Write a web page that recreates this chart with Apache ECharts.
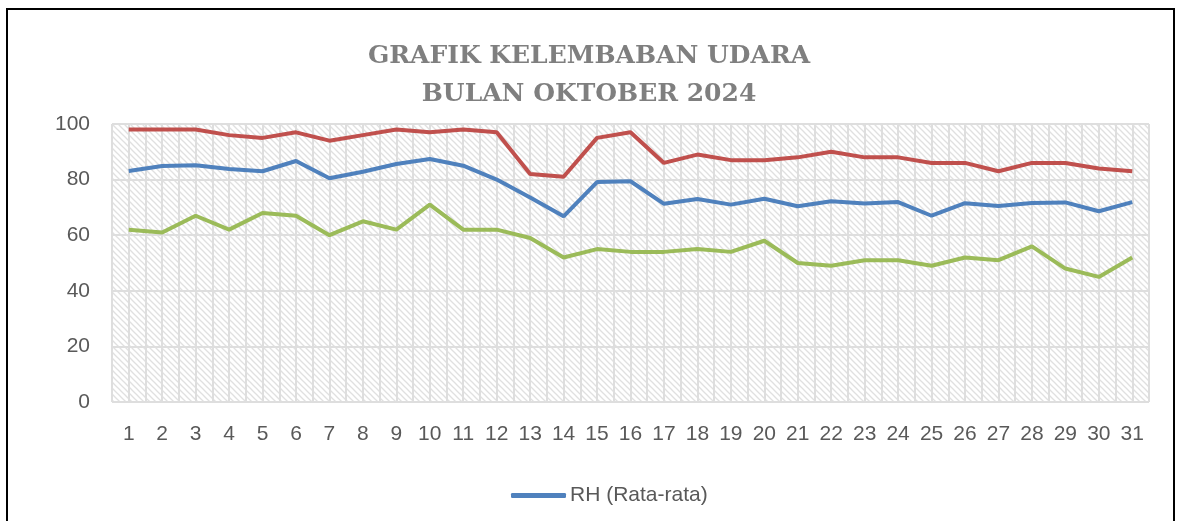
<!DOCTYPE html>
<html>
<head>
<meta charset="utf-8">
<script src="https://cdn.jsdelivr.net/npm/echarts@6/dist/echarts.min.js"></script>
<style>
  html, body { margin: 0; padding: 0; background: #fff; }
  #chart { width: 1178px; height: 521px; }
</style>
</head>
<body>
<div id="chart"></div>
<script>
// hari dalam bulan Oktober 2024
var days = [];
for (var d = 1; d <= 31; d++) days.push(String(d));

var rhMax = [98, 98, 98, 96, 95, 97, 94, 96, 98, 97, 98, 97, 82, 81, 95, 97,
  86, 89, 87, 87, 88, 90, 88, 88, 86, 86, 83, 86, 86, 84, 83];
var rhAvg = [83.1, 84.9, 85.2, 83.8, 83.0, 86.7, 80.5, 82.8, 85.6, 87.4, 85.0,
  80.0, 73.6, 66.8, 79.1, 79.4, 71.3, 73.0, 71.0, 73.1, 70.4, 72.2, 71.4, 71.9,
  67.0, 71.5, 70.5, 71.6, 71.8, 68.6, 71.9];
var rhMin = [62, 61, 67, 62, 68, 67, 60, 65, 62, 71, 62, 62, 59, 52, 55, 54,
  54, 55, 54, 58, 50, 49, 51, 51, 49, 52, 51, 56, 48, 45, 52];

var yTicks = [0, 20, 40, 60, 80, 100];

// pola arsir diagonal untuk latar plot
function hatch() {
  var s = 6;
  var c = document.createElement('canvas');
  c.width = s; c.height = s;
  var ctx = c.getContext('2d');
  ctx.fillStyle = '#ffffff';
  ctx.fillRect(0, 0, s, s);
  ctx.strokeStyle = '#e0e0e0';
  ctx.lineWidth = 1.3;
  [-s, 0, s].forEach(function (o) {
    ctx.beginPath();
    ctx.moveTo(o - 1, -1);
    ctx.lineTo(o + s + 1, s + 1);
    ctx.stroke();
  });
  return c;
}

var chart = echarts.init(document.getElementById('chart'));
var labelFont = '"Liberation Sans", Arial, sans-serif';

var option = {
  backgroundColor: '#ffffff',
  animation: false,
  title: {
    text: 'GRAFIK KELEMBABAN UDARA\nBULAN OKTOBER 2024',
    left: 'center',
    top: 32,
    textStyle: {
      fontFamily: '"DejaVu Serif", "Liberation Serif", serif',
      fontWeight: 'bold',
      fontSize: 25,
      lineHeight: 38,
      color: '#7f7f7f'
    }
  },
  legend: {
    data: ['RH (Rata-rata)'],
    left: 506,
    top: 480,
    icon: 'roundRect',
    itemWidth: 55,
    itemHeight: 5,
    itemGap: 6,
    textStyle: { color: '#595959', fontSize: 21, fontFamily: labelFont, padding: [0, 0, 0, -1] }
  },
  grid: {
    left: 112,
    right: 29,
    top: 124,
    bottom: 119,
    show: true,
    borderWidth: 0,
    backgroundColor: { image: hatch(), repeat: 'repeat' }
  },
  xAxis: [
    {
      type: 'category',
      data: days,
      boundaryGap: true,
      axisLine: { show: false },
      axisTick: { show: false },
      splitLine: { show: false },
      axisLabel: { color: '#595959', fontSize: 21, margin: 22, fontFamily: labelFont }
    },
    {
      // garis kisi vertikal tiap setengah kategori
      type: 'value',
      min: 0,
      max: 62,
      interval: 1,
      position: 'top',
      axisLine: { show: false },
      axisTick: { show: false },
      axisLabel: { show: false },
      splitLine: { show: true, lineStyle: { color: '#dedede', width: 2 } }
    }
  ],
  yAxis: {
    type: 'value',
    min: yTicks[0],
    max: yTicks[yTicks.length - 1],
    interval: 20,
    axisLine: { show: false },
    axisTick: { show: false },
    axisLabel: { color: '#595959', fontSize: 21, margin: 22, fontFamily: labelFont },
    splitLine: { show: true, lineStyle: { color: '#dedede', width: 2 } }
  },
  series: [
    {
      name: 'RH (Maks)',
      type: 'line',
      data: rhMax,
      symbol: 'none',
      lineStyle: { color: '#c0504d', width: 4 },
      itemStyle: { color: '#c0504d' }
    },
    {
      name: 'RH (Rata-rata)',
      type: 'line',
      data: rhAvg,
      symbol: 'none',
      lineStyle: { color: '#4f81bd', width: 4 },
      itemStyle: { color: '#4f81bd' }
    },
    {
      name: 'RH (Min)',
      type: 'line',
      data: rhMin,
      symbol: 'none',
      lineStyle: { color: '#9bbb59', width: 4 },
      itemStyle: { color: '#9bbb59' }
    }
  ],
  graphic: [
    {
      type: 'rect',
      shape: { x: 7, y: 9, width: 1167, height: 530 },
      style: { fill: null, stroke: '#000000', lineWidth: 2 },
      silent: true
    }
  ]
};

chart.setOption(option);
</script>
</body>
</html>
